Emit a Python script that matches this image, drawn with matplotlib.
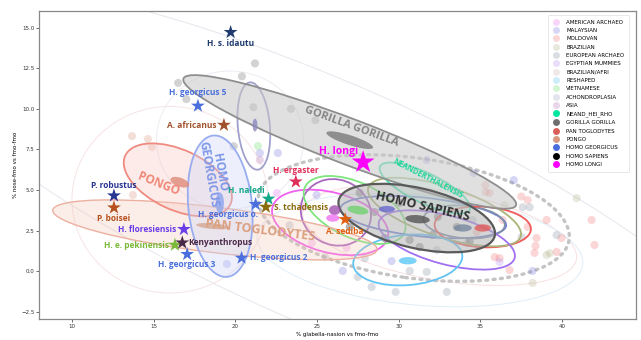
import matplotlib
matplotlib.use("Agg")
import matplotlib.pyplot as plt
from matplotlib.patches import Ellipse
from matplotlib.lines import Line2D
from matplotlib.colors import to_rgba

plt.rcParams['font.family'] = ['DejaVu Sans']

# ---------------- reference groups ----------------
groups = ["AMERICAN ARCHAEO", "MALAYSIAN", "MOLDOVAN", "BRAZILIAN",
          "EUROPEAN ARCHAEO", "EGYPTIAN MUMMIES", "BRAZILIAN/AFRI",
          "RESHAPED", "VIETNAMESE", "ACHONDROPLASIA", "ASIA",
          "NEAND_HEI_RHO", "GORILLA GORILLA", "PAN TOGLODYTES", "PONGO",
          "HOMO GEORGICUS", "HOMO SAPIENS", "HOMO LONGI"]
group_colors = ["#ee7aee", "#7b7be0", "#f07a7a", "#b4b48c", "#8a96a8",
                "#b690f0", "#d0b8b8", "#5cc4f4", "#6ee06e", "#a8a8c8",
                "#b878b8", "#00e5a0", "#6e6e6e", "#d9605a", "#d89880",
                "#4a6fdc", "#000000", "#ff00ff"]
legend_alpha = [0.3] * 11 + [1.0] * 7

# ---------------- individual specimens (x: % glabella-nasion, y: % nose-fmo) ----------------
american_x = [24.15, 22.54, 24.68, 26.81]
american_y = [3.94, 4.81, 1.73, 1.43]
malaysian_x = [37.04, 34.59, 38.19, 26.57, 29.56, 24.97, 21.5, 22.6, 19.48, 31.7]
malaysian_y = [5.61, 6.04, 0.01, 0.01, 0.62, 4.69, 7.28, 7.28, 0.44, 6.84]
moldovan_x = [39.05, 41.8, 37.89, 37.89, 39.96, 38.43, 38.37, 41.98, 39.66,
              38.31, 36.78, 35.87, 36.17, 36.36, 34.77, 35.56, 35.32, 35.3, 37.5]
moldovan_y = [3.15, 3.15, 4.38, 2.72, 2.04, 2.04, 1.55, 1.61, 1.18,
              1.12, 0.07, 0.86, 0.80, 3.15, 2.41, 4.81, 4.87, 5.3, 4.6]
brazilian_x = [40.89, 39.05, 39.24, 38.19, 36.48]
brazilian_y = [4.5, 0.99, 1.11, -0.73, 4.07]
european_x = [25.49, 27.49, 28.34, 29.81, 30.67, 31.71, 32.94, 23.32, 27.92,
              32.33, 34.16, 37.52, 39.66, 34.53, 38.01, 37.58, 32.9, 33.6]
european_y = [0.86, -0.36, -0.98, -1.28, 0.01, -0.05, -1.28, 2.83, 0.80,
              1.30, 1.73, 2.10, 2.22, 3.15, 3.94, 3.94, 5.3, 4.9]
egyptian_x = [36.17]
egyptian_y = [0.56]
vietnamese_x = [21.38]
vietnamese_y = [7.71]
asia_x = [21.5]
asia_y = [6.85]
gorilla_x = [21.2, 20.4, 16.5, 17.0, 21.1, 23.4, 24.9, 19.9]
gorilla_y = [12.8, 12.0, 11.6, 10.6, 10.1, 10.0, 9.3, 7.7]
pongo_x = [13.67, 14.65, 14.89, 13.73]
pongo_y = [8.32, 8.14, 7.65, 4.69]
sapiens_x = [27.61, 28.53, 30.06, 32.39, 33.55, 32.08, 30.67, 29.14, 34.34, 27.0, 31.28]
sapiens_y = [4.82, 3.64, 4.19, 3.34, 2.72, 2.23, 1.92, 2.04, 1.80, 2.72, 1.49]

points = {
    "AMERICAN ARCHAEO": (american_x, american_y),
    "MALAYSIAN": (malaysian_x, malaysian_y),
    "MOLDOVAN": (moldovan_x, moldovan_y),
    "BRAZILIAN": (brazilian_x, brazilian_y),
    "EUROPEAN ARCHAEO": (european_x, european_y),
    "EGYPTIAN MUMMIES": (egyptian_x, egyptian_y),
    "VIETNAMESE": (vietnamese_x, vietnamese_y),
    "ASIA": (asia_x, asia_y),
    "GORILLA GORILLA": (gorilla_x, gorilla_y),
    "PONGO": (pongo_x, pongo_y),
    "HOMO SAPIENS": (sapiens_x, sapiens_y),
}

# ---------------- dispersion ellipses: centre, full axes, angle ----------------
ell_group = ["AMERICAN ARCHAEO", "ASIA", "VIETNAMESE", "MALAYSIAN",
             "EUROPEAN ARCHAEO", "MOLDOVAN", "BRAZILIAN", "EGYPTIAN MUMMIES",
             "RESHAPED", "ACHONDROPLASIA", "NEAND_HEI_RHO", "GORILLA GORILLA",
             "HOMO SAPIENS", "PAN TOGLODYTES", "PONGO", "HOMO GEORGICUS"]
ell_x = [25.8, 26.15, 27.3, 31.5, 34.0, 35.14, 32.8, 32.94, 30.55, 21.13, 31.6, 27.0, 31.1, 18.75, 16.48, 19.07]
ell_y = [3.0, 3.62, 3.77, 3.33, 3.03, 2.72, 3.64, 1.92, 0.69, 8.94, 5.12, 7.96, 3.27, 2.54, 5.62, 4.0]
ell_w = [7.3, 4.4, 6.7, 10.2, 5.0, 5.9, 9.8, 8.6, 6.7, 5.4, 6.1, 21.8, 9.8, 20.0, 7.1, 8.75]
ell_h = [3.7, 4.0, 3.4, 2.4, 2.0, 2.5, 3.1, 3.0, 3.1, 1.96, 1.85, 2.8, 3.7, 2.8, 3.7, 3.9]
ell_ang = [-15, -30, -25, -6, -5, -3, -18, -15, 5, 95, -26, -21, -13, -7, -25, 95.6]

# group mean regions
mean_group = ["GORILLA GORILLA", "HOMO SAPIENS", "PAN TOGLODYTES", "PONGO",
              "HOMO GEORGICUS", "ACHONDROPLASIA", "RESHAPED", "MOLDOVAN",
              "VIETNAMESE", "ASIA", "AMERICAN ARCHAEO", "MALAYSIAN", "EUROPEAN ARCHAEO"]
mean_x = [27.0, 31.15, 18.6, 16.6, 19.05, 21.2, 30.55, 35.14, 27.5, 26.08, 25.96, 29.27, 33.92]
mean_y = [8.07, 3.2, 2.77, 5.48, 4.2, 9.0, 0.64, 2.66, 3.76, 3.76, 3.27, 3.82, 2.66]
mean_w = [3.0, 1.5, 2.0, 1.2, 0.5, 0.3, 1.1, 1.0, 1.3, 0.7, 0.8, 1.0, 1.1]
mean_h = [0.6, 0.5, 0.35, 0.55, 1.3, 0.8, 0.45, 0.45, 0.5, 0.6, 0.45, 0.4, 0.45]
mean_ang = [-18, -5, -5, -20, 0, 0, 0, 0, -10, 0, 0, 0, 0]

# pooled-population outlines
pool_x = [30.92, 25.78, 16.0, 19.67, 32.5, 31.3]
pool_y = [3.27, 4.08, 4.4, 8.08, 2.2, 1.3]
pool_w = [19.2, 58.7, 12.0, 9.0, 17.0, 20.0]
pool_h = [7.4, 14.8, 11.5, 8.5, 5.5, 6.8]
pool_ang = [-8, -24, 0, 0, -10, -5]

# ---------------- fossil specimens ----------------
fossil_names = ["H. s. idautu", "H. georgicus 5", "A. africanus", "P. robustus",
                "P. boisei", "H. floresiensis", "H. e. pekinensis", "Kenyanthropus",
                "H. georgicus 3", "H. georgicus 2", "H. georgicus o.", "H. naledi",
                "S. tchadensis", "H. ergaster", "H. longi", "A. sediba"]
fossil_x = [19.71, 17.71, 19.30, 12.57, 12.57, 16.85, 16.30, 16.75,
            17.05, 20.38, 21.24, 22.03, 21.87, 23.70, 27.82, 26.72]
fossil_y = [14.72, 10.18, 9.0, 4.65, 3.91, 2.58, 1.61, 1.75,
            1.04, 0.81, 4.12, 4.45, 3.95, 5.51, 6.71, 3.19]
fossil_colors = ["#1f3a6e", "#4a6fdc", "#a0522d", "#283593", "#b5501e", "#6a3de8",
                 "#7cb83a", "#4a2848", "#4a6fdc", "#4a6fdc", "#4a6fdc", "#13a88a",
                 "#8b6b0b", "#e0305a", "#ff00ff", "#e06010"]

# label placement (offset in points, horizontal alignment)
label_place = {
    "H. s. idautu": ((0, -8), "center"),
    "H. georgicus 5": ((0, 9.4), "center"),
    "A. africanus": ((-5, 0), "right"),
    "P. robustus": ((0, 7.2), "center"),
    "P. boisei": ((0, -8), "center"),
    "H. floresiensis": ((-5.8, 0), "right"),
    "H. e. pekinensis": ((-4.3, -0.5), "right"),
    "Kenyanthropus": ((4.3, 0), "left"),
    "H. georgicus 3": ((0, -7.2), "center"),
    "H. georgicus 2": ((5.8, 0), "left"),
    "H. georgicus o.": ((-20, -7.4), "center"),
    "H. naledi": ((-16, 5.8), "center"),
    "S. tchadensis": ((5.8, -0.7), "left"),
    "H. ergaster": ((0, 8), "center"),
    "H. longi": ((-18, 7.5), "center"),
    "A. sediba": ((0, -8.6), "center"),
}

color_of = dict(zip(groups, group_colors))

fig = plt.figure(figsize=(6.41, 3.40), dpi=100)
ax = fig.add_axes([0.0613, 0.0618, 0.9304, 0.9059])

# pooled outlines (faint)
pool_colors = ["#c4c4c4", "#e6e6ee", "#f6e4e4", "#ececf4", "#f8e0e0", "#e0eef8"]
for i in range(len(pool_x)):
    if i == 0:
        e = Ellipse((pool_x[i], pool_y[i]), pool_w[i], pool_h[i], angle=pool_ang[i],
                    fill=False, edgecolor=pool_colors[i], lw=2.4, ls=(0, (0.6, 1.6)),
                    capstyle='round', zorder=2)
    else:
        e = Ellipse((pool_x[i], pool_y[i]), pool_w[i], pool_h[i], angle=pool_ang[i],
                    fill=False, edgecolor=pool_colors[i], lw=0.7, zorder=1)
    ax.add_patch(e)

# individual specimens
for g, (xs, ys) in points.items():
    ax.scatter(xs, ys, s=34, color=color_of[g], alpha=0.3, edgecolors='none', zorder=2)

# dispersion ellipses
filled = {"GORILLA GORILLA": ("#c8c8c8", 0.55, "#8e8e8e", 1.3),
          "HOMO SAPIENS": ("#b4b4b4", 0.55, "#5a5a5a", 1.6),
          "PAN TOGLODYTES": ("#f4c4b4", 0.3, "#ecb0a0", 1.0),
          "PONGO": ("#f8c8c0", 0.35, "#f08a80", 1.3),
          "HOMO GEORGICUS": ("#ccd6f8", 0.35, "#98acf0", 1.3),
          "NEAND_HEI_RHO": ("#c0f4e0", 0.35, "#50e4b4", 1.3)}
line_colors = {"AMERICAN ARCHAEO": "#f060f0", "ASIA": "#a868c0", "VIETNAMESE": "#7ee67e",
               "MALAYSIAN": "#7080d8", "EUROPEAN ARCHAEO": "#8090a8", "MOLDOVAN": "#f25a5a",
               "BRAZILIAN": "#aab476", "EGYPTIAN MUMMIES": "#a070f0", "RESHAPED": "#62c4f2",
               "ACHONDROPLASIA": "#a0a0cc"}
for i, g in enumerate(ell_group):
    if g in filled:
        fc, fa, ec, lw = filled[g]
        ax.add_patch(Ellipse((ell_x[i], ell_y[i]), ell_w[i], ell_h[i], angle=ell_ang[i],
                             facecolor=to_rgba(fc, fa), edgecolor=ec, lw=lw, zorder=3))
    else:
        ax.add_patch(Ellipse((ell_x[i], ell_y[i]), ell_w[i], ell_h[i], angle=ell_ang[i],
                             fill=False, edgecolor=line_colors[g], lw=1.3, zorder=3))

mean_colors = {"GORILLA GORILLA": "#7a7a7a", "HOMO SAPIENS": "#555555",
               "PAN TOGLODYTES": "#d4a894", "PONGO": "#e08a7a", "HOMO GEORGICUS": "#8ca4f0",
               "ACHONDROPLASIA": "#8a8ac0", "RESHAPED": "#5bc8f5", "MOLDOVAN": "#e05a5a",
               "VIETNAMESE": "#70d070", "ASIA": "#a050b0", "AMERICAN ARCHAEO": "#f070f0",
               "MALAYSIAN": "#6a6ad0", "EUROPEAN ARCHAEO": "#7888a0"}
for i, g in enumerate(mean_group):
    ax.add_patch(Ellipse((mean_x[i], mean_y[i]), mean_w[i], mean_h[i], angle=mean_ang[i],
                         facecolor=mean_colors[g], alpha=0.8, edgecolor='none', zorder=4))

# group names
lab_font = ['Open Sans', 'DejaVu Sans']
ax.text(27.13, 8.88, "GORILLA GORILLA", color="#858585", fontsize=8, fontweight='bold',
        rotation=-20, ha='center', va='center', family=lab_font, zorder=5)
ax.text(31.48, 4.0, "HOMO SAPIENS", color="#303030", fontsize=9, fontweight='bold',
        rotation=-13, ha='center', va='center', family=lab_font, zorder=5)
ax.text(31.79, 5.73, "NEANDERTHALENSIS", color="#1ed69a", fontsize=5.5, fontweight='bold',
        rotation=-27, ha='center', va='center', family=lab_font, zorder=5)
ax.text(15.33, 5.36, "PONGO", color="#f08878", fontsize=8.5, fontweight='bold',
        rotation=-22, ha='center', va='center', family=lab_font, zorder=5)
ax.text(18.7, 6.0, "HOMO\nGEORGICUS", color="#8098e8", fontsize=8.5, fontweight='bold',
        rotation=-80, ha='center', va='center', multialignment='center',
        linespacing=0.9, family=lab_font, zorder=5)
ax.text(21.5, 2.52, "PAN TOGLODYTES", color="#dba080", fontsize=9, fontweight='bold',
        rotation=-7, ha='center', va='center', family=lab_font, zorder=5)

# fossils
for name, x, y, c in zip(fossil_names, fossil_x, fossil_y, fossil_colors):
    big = name == "H. longi"
    ax.scatter([x], [y], marker='*', s=300 if big else 110, color=c,
               edgecolors='none', zorder=6)
    off, ha = label_place[name]
    ax.annotate(name, (x, y), xytext=off, textcoords='offset points', ha=ha, va='center',
                color=c, fontsize=7.5 if big else 6, fontweight='bold', family=lab_font,
                zorder=7)

ax.set_xlim(8.0, 44.5)
ax.set_ylim(-2.95, 16.03)
ax.set_xticks([10, 15, 20, 25, 30, 35, 40])
ax.set_yticks([-2.5, 0.0, 2.5, 5.0, 7.5, 10.0, 12.5, 15.0])
ax.set_yticklabels(["\u22122.5", "0.0", "2.5", "5.0", "7.5", "10.0", "12.5", "15.0"])
ax.tick_params(labelsize=4, length=2, width=0.5, colors='#333333', pad=1.5)
for sp in ax.spines.values():
    sp.set_color('#888888')
    sp.set_linewidth(0.9)
ax.set_xlabel("% glabella-nasion vs fmo-fmo", fontsize=4, labelpad=2)
ax.set_ylabel("% nose-fmo vs fmo-fmo", fontsize=4, labelpad=2)

handles = [Line2D([], [], marker='o', linestyle='', markersize=5,
                  markerfacecolor=to_rgba(c, a), markeredgecolor='none')
           for c, a in zip(group_colors, legend_alpha)]
leg = ax.legend(handles, groups, loc='upper right', fontsize=4.0, frameon=True,
                borderpad=0.9, labelspacing=0.6, handletextpad=1.3, handlelength=1.0,
                bbox_to_anchor=(0.994, 0.997))
leg.get_frame().set_edgecolor('#dddddd')
leg.get_frame().set_linewidth(0.6)
leg.set_zorder(10)

fig.savefig("out.png", dpi=100)
